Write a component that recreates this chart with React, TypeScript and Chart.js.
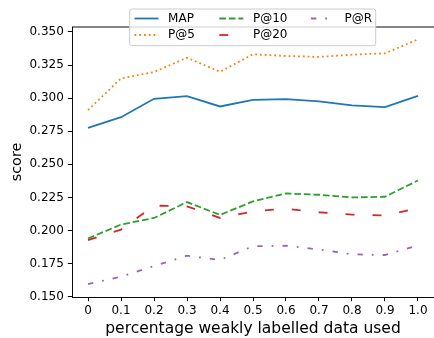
import React, { useEffect, useRef } from "react";
import { Chart, registerables } from "chart.js";

Chart.register(...registerables);

// ---- data ----
const xValues = [0, 0.1, 0.2, 0.3, 0.4, 0.5, 0.6, 0.7, 0.8, 0.9, 1.0];
const xTickLabels = ["0", "0.1", "0.2", "0.3", "0.4", "0.5", "0.6", "0.7", "0.8", "0.9", "1.0"];
const yTickValues = [0.15, 0.175, 0.2, 0.225, 0.25, 0.275, 0.3, 0.325, 0.35];
const yTickLabels = ["0.150", "0.175", "0.200", "0.225", "0.250", "0.275", "0.300", "0.325", "0.350"];

const seriesNames = ["MAP", "P@5", "P@10", "P@20", "P@R"];
const mapValues = [0.2775, 0.2856, 0.2995, 0.3015, 0.2937, 0.2987, 0.2992, 0.2975, 0.2945, 0.2932, 0.3017];
const p5Values = [0.2909, 0.3149, 0.3197, 0.3305, 0.3199, 0.3331, 0.3318, 0.3311, 0.3328, 0.3338, 0.3444];
const p10Values = [0.194, 0.2045, 0.2095, 0.2215, 0.2118, 0.222, 0.228, 0.227, 0.225, 0.2255, 0.2378];
const p20Values = [0.1927, 0.2007, 0.2188, 0.2183, 0.2095, 0.2145, 0.2165, 0.2138, 0.212, 0.2113, 0.217];
const prValues = [0.1595, 0.1652, 0.1732, 0.181, 0.1777, 0.1882, 0.1885, 0.1857, 0.182, 0.1815, 0.1888];
const seriesValues = [mapValues, p5Values, p10Values, p20Values, prValues];

const xAxisTitle = "percentage weakly labelled data used";
const yAxisTitle = "score";

// ---- styles ----
const seriesColors = ["#1f77b4", "#ff7f0e", "#2ca02c", "#d62728", "#9467bd"];
const seriesDashes: number[][] = [[], [1.8, 2.97], [6.66, 2.88], [9, 18], [5.4, 9, 1.8, 9]];
const LINE_W = 1.8;
const FONT = "'DejaVu Sans', sans-serif";

// legend layout: [column, row] for each series
const legendSlots = [
  [0, 0],
  [0, 1],
  [1, 0],
  [1, 1],
  [2, 0],
];
const legendColX = [134.5, 219.3, 310.9];
const legendRowY = [18.5, 35];

const topSpinePlugin = {
  id: "topSpine",
  afterDatasetsDraw(chart: any) {
    const { ctx, chartArea } = chart;
    ctx.save();
    ctx.strokeStyle = "#000";
    ctx.lineWidth = 0.96;
    ctx.beginPath();
    ctx.moveTo(chartArea.left, chartArea.top);
    ctx.lineTo(chartArea.right, chartArea.top);
    ctx.stroke();
    ctx.restore();
  },
};

const customLegendPlugin = {
  id: "customLegend",
  afterDraw(chart: any) {
    const { ctx } = chart;
    ctx.save();
    const bx = 129.7, by = 9, bw = 246, bh = 36.7, r = 2.4;
    ctx.beginPath();
    ctx.moveTo(bx + r, by);
    ctx.lineTo(bx + bw - r, by);
    ctx.arcTo(bx + bw, by, bx + bw, by + r, r);
    ctx.lineTo(bx + bw, by + bh - r);
    ctx.arcTo(bx + bw, by + bh, bx + bw - r, by + bh, r);
    ctx.lineTo(bx + r, by + bh);
    ctx.arcTo(bx, by + bh, bx, by + bh - r, r);
    ctx.lineTo(bx, by + r);
    ctx.arcTo(bx, by, bx + r, by, r);
    ctx.closePath();
    ctx.fillStyle = "rgba(255,255,255,0.8)";
    ctx.fill();
    ctx.strokeStyle = "#cccccc";
    ctx.lineWidth = 1;
    ctx.stroke();

    chart.data.datasets.forEach((ds: any, i: number) => {
      const [c, rr] = legendSlots[i];
      const hx = legendColX[c];
      const hy = legendRowY[rr];
      ctx.beginPath();
      ctx.strokeStyle = ds.borderColor;
      ctx.lineWidth = LINE_W;
      ctx.setLineDash(ds.borderDash || []);
      ctx.lineCap = "butt";
      ctx.moveTo(hx, hy);
      ctx.lineTo(hx + 24, hy);
      ctx.stroke();
      ctx.setLineDash([]);
      ctx.fillStyle = "#000";
      ctx.font = `12px ${FONT}`;
      ctx.textBaseline = "middle";
      ctx.textAlign = "left";
      ctx.fillText(ds.label, hx + 24 + 9.6, hy);
    });
    ctx.restore();
  },
};

export default function App() {
  const canvasRef = useRef<HTMLCanvasElement | null>(null);

  useEffect(() => {
    document.body.style.margin = "0";
    const canvas = canvasRef.current;
    if (!canvas) return;
    Chart.defaults.font.family = FONT;
    Chart.defaults.color = "#000";

    const datasets = seriesNames.map((name, i) => ({
      label: name,
      data: xValues.map((x, j) => ({ x, y: seriesValues[i][j] })),
      borderColor: seriesColors[i],
      backgroundColor: seriesColors[i],
      borderWidth: LINE_W,
      borderDash: seriesDashes[i],
      borderCapStyle: "butt",
      pointRadius: 0,
      tension: 0,
      fill: false,
    }));

    const chart = new Chart(canvas, {
      type: "line",
      data: { datasets } as any,
      options: {
        animation: false,
        responsive: false,
        maintainAspectRatio: false,
        layout: { padding: { top: 27, right: 0, left: 0, bottom: 0 }, autoPadding: false } as any,
        plugins: {
          legend: { display: false },
          tooltip: { enabled: false },
        },
        scales: {
          x: {
            type: "linear",
            position: "bottom",
            min: -0.0485,
            max: 1.0485,
            afterBuildTicks(scale: any) {
              scale.ticks = xValues.map((v) => ({ value: v }));
            },
            afterFit(scale: any) {
              scale.height = 41;
            },
            ticks: {
              autoSkip: false,
              maxRotation: 0,
              padding: 2.5,
              font: { size: 12 },
              color: "#000",
              callback: (_v: any, idx: number) => xTickLabels[idx],
            },
            grid: {
              drawOnChartArea: false,
              drawTicks: true,
              tickLength: 4.2,
              color: "#000",
              lineWidth: 0.96,
            },
            border: { display: true, color: "#000", width: 0.96 },
            title: {
              display: true,
              text: xAxisTitle,
              font: { size: 15.5 },
              color: "#000",
              padding: { top: 0, bottom: 0 },
            },
          },
          y: {
            type: "linear",
            min: 0.1498,
            max: 0.3537,
            afterBuildTicks(scale: any) {
              scale.ticks = yTickValues.map((v) => ({ value: v }));
            },
            afterFit(scale: any) {
              scale.width = 72;
            },
            ticks: {
              autoSkip: false,
              padding: 4,
              font: { size: 12 },
              color: "#000",
              callback: (_v: any, idx: number) => yTickLabels[idx],
            },
            grid: {
              drawOnChartArea: false,
              drawTicks: true,
              tickLength: 4.2,
              color: "#000",
              lineWidth: 0.96,
            },
            border: { display: true, color: "#000", width: 0.96 },
            title: {
              display: true,
              text: yAxisTitle,
              font: { size: 14.4 },
              color: "#000",
              padding: { top: 9, bottom: 0 },
            },
          },
        },
      } as any,
      plugins: [topSpinePlugin, customLegendPlugin],
    });

    return () => {
      chart.destroy();
    };
  }, []);

  return (
    <div style={{ width: 434, height: 338 }}>
      <canvas ref={canvasRef} width={434} height={338} style={{ width: 434, height: 338, display: "block" }} />
    </div>
  );
}
